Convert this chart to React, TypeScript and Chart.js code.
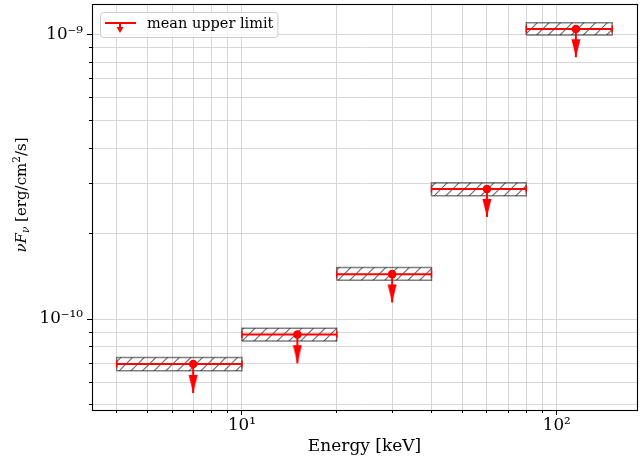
import React, { useEffect, useRef } from "react";
import { Chart, registerables } from "chart.js";

Chart.register(...registerables);

// ---------------- data ----------------
const BIN_LOW_KEV = [4, 10, 20, 40, 80];
const BIN_HIGH_KEV = [10, 20, 40, 80, 150];
const BIN_CENTER_KEV = [7, 15, 30, 60, 115];
const MEAN_UPPER_LIMIT = [6.95e-11, 8.83e-11, 1.44e-10, 2.87e-10, 1.05e-9];
const BAND_LOW = [6.58e-11, 8.37e-11, 1.37e-10, 2.72e-10, 1.0e-9];
const BAND_HIGH = [7.33e-11, 9.29e-11, 1.52e-10, 3.02e-10, 1.104e-9];
const ARROW_TIP = [5.5e-11, 7.0e-11, 1.145e-10, 2.29e-10, 8.35e-10];

const X_TICKS = [4, 5, 6, 7, 8, 9, 10, 20, 30, 40, 50, 60, 70, 80, 90, 100];
const Y_TICKS = [
  5e-11, 6e-11, 7e-11, 8e-11, 9e-11, 1e-10, 2e-10, 3e-10, 4e-10, 5e-10, 6e-10,
  7e-10, 8e-10, 9e-10, 1e-9,
];
const X_LIMITS = [3.34, 179.8];
const Y_LIMITS = [4.79e-11, 1.285e-9];

const X_TITLE = "Energy [keV]";
const Y_TITLE_RUNS = [
  { text: "ν", italic: true, shift: 0, scale: 1 },
  { text: "F", italic: true, shift: 0, scale: 1 },
  { text: "ν", italic: true, shift: -0.2, scale: 0.7 },
  { text: " [erg/cm", italic: false, shift: 0, scale: 1 },
  { text: "2", italic: false, shift: 0.42, scale: 0.7 },
  { text: "/s]", italic: false, shift: 0, scale: 1 },
];
const LEGEND_LABEL = "mean upper limit";

// ---------------- style ----------------
const FONT = '"DejaVu Serif", serif';
const RED = "#ff0000";
const GRID = "#d7d7d7";
const TICK_FONT = 16.7;
const TITLE_FONT = 17;
const Y_TITLE_FONT = 15;
const LEGEND_FONT = 14.5;

const SUP: Record<string, string> = {
  "-": "⁻", "0": "⁰", "1": "¹", "2": "²", "3": "³", "4": "⁴",
  "5": "⁵", "6": "⁶", "7": "⁷", "8": "⁸", "9": "⁹",
};

function isMajor(v: number) {
  const l = Math.log10(v);
  return Math.abs(l - Math.round(l)) < 1e-9;
}
function powLabel(v: number) {
  const e = String(Math.round(Math.log10(v)));
  return "10" + e.split("").map((c) => SUP[c] || c).join("");
}
function align(p: number) {
  return Math.round(p - 0.5) + 0.5;
}

function makeHatch(ctx: CanvasRenderingContext2D) {
  const s = 35;
  const c = document.createElement("canvas");
  c.width = s;
  c.height = s;
  const g = c.getContext("2d")!;
  g.strokeStyle = "rgba(0,0,0,0.6)";
  g.lineWidth = 1.1;
  const step = s / 3;
  for (let k = -1; k <= 7; k++) {
    const cc = k * step;
    g.beginPath();
    g.moveTo(cc + 2, -2);
    g.lineTo(cc - s - 2, s + 2);
    g.stroke();
  }
  return ctx.createPattern(c, "repeat") || "rgba(0,0,0,0)";
}

function makeArrowHead() {
  const w = 9;
  const h = 18;
  const c = document.createElement("canvas");
  c.width = 10;
  c.height = 2 * h + 2;
  const g = c.getContext("2d")!;
  const cx = c.width / 2;
  const tip = c.height / 2;
  g.fillStyle = RED;
  g.beginPath();
  g.moveTo(cx - w / 2, tip - h);
  g.lineTo(cx + w / 2, tip - h);
  g.lineTo(cx, tip);
  g.closePath();
  g.fill();
  return c;
}

const decorPlugin = {
  id: "decor",
  afterDraw(chart: any) {
    const { ctx, chartArea: ca, scales } = chart;
    const xs = scales.x;
    const ys = scales.y;
    ctx.save();
    // tick marks
    ctx.strokeStyle = "#000";
    ctx.lineWidth = 1;
    for (const v of X_TICKS) {
      const p = align(xs.getPixelForValue(v));
      const len = isMajor(v) ? 5 : 3;
      ctx.beginPath();
      ctx.moveTo(p, ca.bottom);
      ctx.lineTo(p, ca.bottom + len);
      ctx.stroke();
    }
    for (const v of Y_TICKS) {
      const p = align(ys.getPixelForValue(v));
      const len = isMajor(v) ? 5 : 3;
      ctx.beginPath();
      ctx.moveTo(ca.left, p);
      ctx.lineTo(ca.left - len, p);
      ctx.stroke();
    }
    // frame
    ctx.lineWidth = 1.1;
    ctx.strokeStyle = "#000";
    ctx.strokeRect(
      align(ca.left),
      align(ca.top),
      align(ca.right) - align(ca.left),
      align(ca.bottom) - align(ca.top)
    );

    // legend
    ctx.font = `${LEGEND_FONT}px ${FONT}`;
    const tw = ctx.measureText(LEGEND_LABEL).width;
    const lx = ca.left + 8;
    const ly = ca.top + 8;
    const lw = 47 + tw + 4;
    const lh = 25;
    ctx.beginPath();
    (ctx as any).roundRect(lx + 0.5, ly + 0.5, lw, lh, 3);
    ctx.fillStyle = "rgba(255,255,255,0.8)";
    ctx.fill();
    ctx.strokeStyle = "#cccccc";
    ctx.lineWidth = 1;
    ctx.stroke();
    // icon
    ctx.strokeStyle = RED;
    ctx.lineWidth = 2;
    ctx.beginPath();
    ctx.moveTo(lx + 5, ly + 11);
    ctx.lineTo(lx + 36, ly + 11);
    ctx.moveTo(lx + 20, ly + 11);
    ctx.lineTo(lx + 20, ly + 16);
    ctx.stroke();
    ctx.fillStyle = RED;
    ctx.beginPath();
    ctx.moveTo(lx + 16.5, ly + 15);
    ctx.lineTo(lx + 23.5, ly + 15);
    ctx.lineTo(lx + 20, ly + 21);
    ctx.closePath();
    ctx.fill();
    ctx.fillStyle = "#000";
    ctx.textBaseline = "middle";
    ctx.textAlign = "left";
    ctx.fillText(LEGEND_LABEL, lx + 47, ly + 12.5);

    // y title
    const base = Y_TITLE_FONT;
    const fontFor = (r: any) =>
      `${r.italic ? "italic " : ""}${(base * r.scale).toFixed(2)}px ${FONT}`;
    let total = 0;
    for (const r of Y_TITLE_RUNS) {
      ctx.font = fontFor(r);
      total += ctx.measureText(r.text).width;
    }
    ctx.translate(26, 195);
    ctx.rotate(-Math.PI / 2);
    ctx.textBaseline = "alphabetic";
    let x = -total / 2;
    for (const r of Y_TITLE_RUNS) {
      ctx.font = fontFor(r);
      ctx.fillText(r.text, x, -r.shift * base);
      x += ctx.measureText(r.text).width;
    }
    ctx.restore();
  },
};

export default function App() {
  const ref = useRef<HTMLCanvasElement>(null);

  useEffect(() => {
    const canvas = ref.current!;
    const ctx = canvas.getContext("2d")!;
    const hatch = makeHatch(ctx);
    const arrowHead = makeArrowHead();
    const datasets: any[] = [];

    BIN_LOW_KEV.forEach((lo, i) => {
      const hi = BIN_HIGH_KEV[i];
      datasets.push({
        label: "band",
        data: [
          { x: lo, y: BAND_LOW[i] },
          { x: hi, y: BAND_LOW[i] },
          { x: hi, y: BAND_HIGH[i] },
          { x: lo, y: BAND_HIGH[i] },
          { x: lo, y: BAND_LOW[i] },
        ],
        borderColor: "rgba(0,0,0,0.5)",
        borderWidth: 1.5,
        backgroundColor: hatch,
        fill: "shape",
        pointRadius: 0,
        tension: 0,
        order: 4,
      });
      datasets.push({
        label: "mean",
        data: [
          { x: lo, y: MEAN_UPPER_LIMIT[i] },
          { x: hi, y: MEAN_UPPER_LIMIT[i] },
        ],
        borderColor: RED,
        borderWidth: 2,
        fill: false,
        pointStyle: "line",
        pointRotation: 90,
        pointRadius: 3.5,
        pointBorderColor: RED,
        pointBorderWidth: 1.5,
        order: 3,
      });
      datasets.push({
        label: "arrow",
        data: [
          { x: BIN_CENTER_KEV[i], y: MEAN_UPPER_LIMIT[i] },
          { x: BIN_CENTER_KEV[i], y: ARROW_TIP[i] },
        ],
        borderColor: RED,
        borderWidth: 2,
        fill: false,
        pointStyle: arrowHead,
        pointRadius: [0, 5],
        order: 2,
      });
    });
    datasets.push({
      label: "center",
      data: BIN_CENTER_KEV.map((x, i) => ({ x, y: MEAN_UPPER_LIMIT[i] })),
      showLine: false,
      pointRadius: 4.3,
      pointBackgroundColor: RED,
      pointBorderWidth: 0,
      order: 1,
    });

    const chart = new Chart(canvas, {
      type: "line",
      data: { datasets },
      plugins: [decorPlugin],
      options: {
        animation: false,
        responsive: false,
        events: [],
        layout: {
          autoPadding: false,
          padding: { left: 0, top: 4, right: 5, bottom: 0 },
        },
        plugins: {
          legend: { display: false },
          tooltip: { enabled: false },
        },
        scales: {
          x: {
            type: "logarithmic",
            min: X_LIMITS[0],
            max: X_LIMITS[1],
            afterBuildTicks: (scale: any) => {
              scale.ticks = X_TICKS.map((v) => ({ value: v, major: isMajor(v) }));
            },
            afterFit: (scale: any) => {
              scale.height = 47;
              scale.paddingLeft = 0;
              scale.paddingRight = 0;
              scale.paddingTop = 0;
              scale.paddingBottom = 0;
            },
            ticks: {
              autoSkip: false,
              maxRotation: 0,
              minRotation: 0,
              padding: 6,
              color: "#000",
              font: { family: FONT, size: TICK_FONT },
              callback: (v: any) => (isMajor(Number(v)) ? powLabel(Number(v)) : ""),
            },
            grid: { color: GRID, lineWidth: 1, drawTicks: false },
            border: { display: false },
            title: {
              display: true,
              text: X_TITLE,
              color: "#000",
              font: { family: FONT, size: TITLE_FONT },
              padding: { top: 0, bottom: 0 },
            },
          },
          y: {
            type: "logarithmic",
            min: Y_LIMITS[0],
            max: Y_LIMITS[1],
            afterBuildTicks: (scale: any) => {
              scale.ticks = Y_TICKS.map((v) => ({ value: v, major: isMajor(v) }));
            },
            afterFit: (scale: any) => {
              scale.width = 92;
              scale.paddingLeft = 0;
              scale.paddingRight = 0;
              scale.paddingTop = 0;
              scale.paddingBottom = 0;
            },
            ticks: {
              autoSkip: false,
              padding: 9,
              color: "#000",
              font: { family: FONT, size: TICK_FONT },
              callback: (v: any) => (isMajor(Number(v)) ? powLabel(Number(v)) : ""),
            },
            grid: { color: GRID, lineWidth: 1, drawTicks: false },
            border: { display: false },
          },
        },
      } as any,
    });
    return () => chart.destroy();
  }, []);

  return (
    <div
      style={{
        position: "fixed",
        left: 0,
        top: 0,
        width: 642,
        height: 457,
        background: "#fff",
      }}
    >
      <canvas ref={ref} width={642} height={457} style={{ display: "block" }} />
    </div>
  );
}
